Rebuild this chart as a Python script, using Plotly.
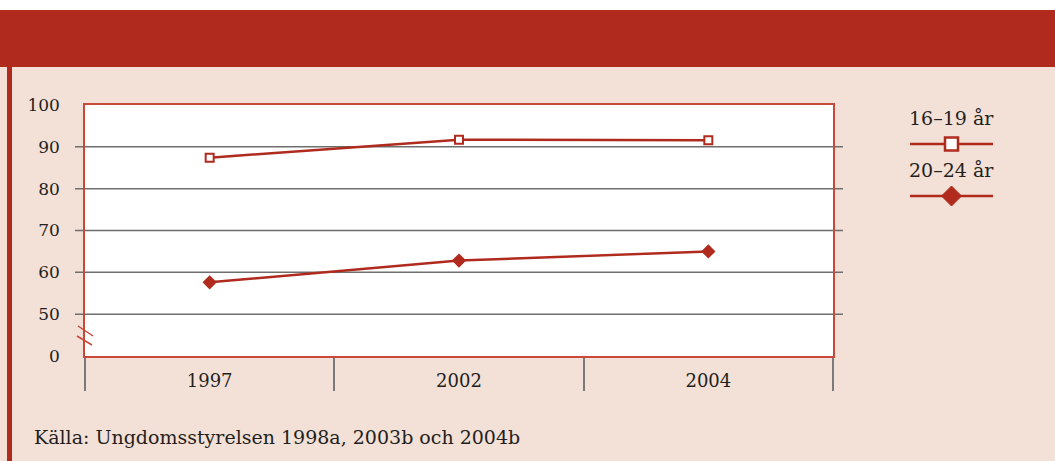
import plotly.graph_objects as go

# --- data -------------------------------------------------------------------
YEARS = ["1997", "2002", "2004"]
AGE_16_19 = [87.4, 91.7, 91.6]
AGE_20_24 = [57.6, 62.8, 65.0]
SERIES_NAMES = ["16–19 år", "20–24 år"]

# broken y axis: the bottom tick stands for 0, the scale resumes at 50
Y_TICKVALS = [40, 50, 60, 70, 80, 90, 100]
Y_TICKTEXT = ["0", "50", "60", "70", "80", "90", "100"]
GRID_VALUES = [50, 60, 70, 80, 90]
SOURCE = "Källa: Ungdomsstyrelsen 1998a, 2003b och 2004b"

# --- style ------------------------------------------------------------------
W, H = 1055, 461
RED = "#b02a1e"
FRAME = "#c8483a"
PINK = "#f3e0d7"
TEXT = "#231f20"
GRID = "#6e6e6e"
FONT = "DejaVu Serif"

# plot box in pixels
PX_L, PX_R, PX_T, PX_B = 85, 833, 105, 356
PW, PH = PX_R - PX_L, PX_B - PX_T


def px(x):
    """figure pixel x -> paper coordinate"""
    return (x - PX_L) / PW


def py(y):
    """figure pixel y (from top) -> paper coordinate"""
    return (PX_B - y) / PH


fig = go.Figure()

fig.add_trace(
    go.Scatter(
        x=YEARS,
        y=AGE_16_19,
        mode="lines+markers",
        name=SERIES_NAMES[0],
        line={"color": RED, "width": 2.5},
        marker={"symbol": "square", "size": 8, "color": "white",
                "line": {"color": RED, "width": 2}},
    )
)
fig.add_trace(
    go.Scatter(
        x=YEARS,
        y=AGE_20_24,
        mode="lines+markers",
        name=SERIES_NAMES[1],
        line={"color": RED, "width": 2.5},
        marker={"symbol": "diamond", "size": 11, "color": RED},
    )
)

shapes = [
    # white top strip, red header band and left stripe
    {"type": "rect", "xref": "paper", "yref": "paper", "x0": px(0), "x1": px(W),
     "y0": py(10), "y1": py(0), "fillcolor": "white", "line": {"width": 0}, "layer": "below"},
    {"type": "rect", "xref": "paper", "yref": "paper", "x0": px(0), "x1": px(W),
     "y0": py(67), "y1": py(10), "fillcolor": RED, "line": {"width": 0}, "layer": "below"},
    {"type": "rect", "xref": "paper", "yref": "paper", "x0": px(7), "x1": px(12),
     "y0": py(H), "y1": py(67), "fillcolor": RED, "line": {"width": 0}, "layer": "below"},
    # axis break marks
    {"type": "line", "xref": "paper", "yref": "paper", "x0": px(78), "y0": py(326),
     "x1": px(93), "y1": py(336), "line": {"color": FRAME, "width": 1.5}},
    {"type": "line", "xref": "paper", "yref": "paper", "x0": px(77), "y0": py(336),
     "x1": px(92), "y1": py(345), "line": {"color": FRAME, "width": 1.5}},
]
ext = 10 / PW
for g in GRID_VALUES:
    shapes.append(
        {"type": "line", "xref": "x domain", "yref": "y", "x0": -ext, "x1": 1 + ext,
         "y0": g, "y1": g, "line": {"color": GRID, "width": 1.5}, "layer": "below"}
    )

# legend key: label above a line sample with the marker in the middle
LEGEND_LINE_Y = [144, 196]
LEG_X0, LEG_X1 = 910, 993
lx = (LEG_X0 + LEG_X1) / 2
for i, (name, ly) in enumerate(zip(SERIES_NAMES, LEGEND_LINE_Y)):
    shapes.append(
        {"type": "line", "xref": "paper", "yref": "paper", "x0": px(LEG_X0), "x1": px(LEG_X1),
         "y0": py(ly), "y1": py(ly), "line": {"color": RED, "width": 2.5}}
    )
    if i == 0:
        shapes.append(
            {"type": "rect", "xref": "paper", "yref": "paper",
             "x0": px(lx - 6.5), "x1": px(lx + 6.5), "y0": py(ly + 6.5), "y1": py(ly - 6.5),
             "fillcolor": "white", "line": {"color": RED, "width": 2.5}}
        )
    else:
        d = 10
        shapes.append(
            {"type": "path", "xref": "paper", "yref": "paper",
             "path": (f"M {px(lx - d)} {py(ly)} L {px(lx)} {py(ly - d)} "
                      f"L {px(lx + d)} {py(ly)} L {px(lx)} {py(ly + d)} Z"),
             "fillcolor": RED, "line": {"color": RED, "width": 1}}
        )
    fig.add_annotation(
        x=px(lx), y=py(ly - 26), xref="paper", yref="paper", text=name,
        xanchor="center", yanchor="middle",
        showarrow=False, font={"family": FONT, "size": 19, "color": TEXT},
    )

fig.add_annotation(
    x=px(32), y=py(437), xref="paper", yref="paper", xanchor="left", yanchor="middle",
    text=SOURCE, showarrow=False, font={"family": FONT, "size": 19, "color": TEXT},
)

fig.update_layout(
    width=W,
    height=H,
    autosize=False,
    margin={"l": PX_L, "r": W - PX_R, "t": PX_T, "b": H - PX_B, "pad": 0},
    paper_bgcolor=PINK,
    plot_bgcolor="white",
    showlegend=False,
    shapes=shapes,
    font={"family": FONT, "size": 17, "color": TEXT},
    xaxis={
        "type": "category",
        "range": [-0.5, 2.5],
        "tickson": "boundaries",
        "ticks": "outside",
        "ticklen": 33,
        "tickwidth": 1.5,
        "tickcolor": "#7a7a7a",
        "ticklabelstandoff": 8,
        "tickfont": {"size": 18},
        "showgrid": False,
        "showline": True,
        "linecolor": FRAME,
        "linewidth": 1.5,
        "mirror": True,
        "zeroline": False,
        "fixedrange": True,
    },
    yaxis={
        "range": [40, 100],
        "tickvals": Y_TICKVALS,
        "ticktext": Y_TICKTEXT,
        "ticks": "",
        "ticklabelstandoff": 20,
        "showgrid": False,
        "showline": True,
        "linecolor": FRAME,
        "linewidth": 1.5,
        "mirror": True,
        "zeroline": False,
        "fixedrange": True,
    },
)

fig.write_html(
    "out.html",
    config={"displayModeBar": False},
    post_script="document.body.style.margin='0';document.body.style.overflow='hidden';",
)
